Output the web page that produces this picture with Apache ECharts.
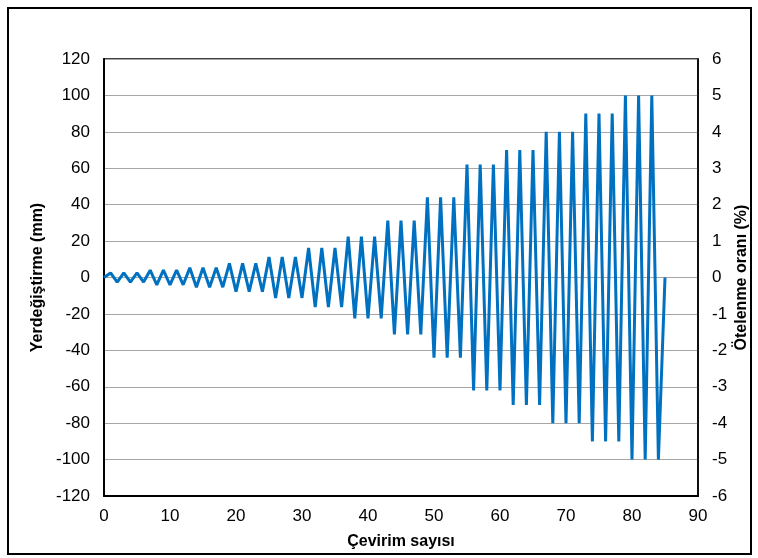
<!DOCTYPE html>
<html>
<head>
<meta charset="utf-8">
<script src="https://cdn.jsdelivr.net/npm/echarts@6/dist/echarts.min.js"></script>
<style>
  html, body { margin: 0; padding: 0; background: #fff; }
  #chart { width: 758px; height: 558px; }
</style>
</head>
<body>
<div id="chart"></div>
<script>
// displacement (mm) at each half-cycle step 0..85
var displacement = [
    0,
    2.5, -2.5, 2.5, -2.5, 2.5, -2.5,
    4, -4, 4, -4, 4, -4,
    5.3, -5.3, 5.3, -5.3, 5.3, -5.3,
    7.8, -7.8, 7.8, -7.8, 7.8, -7.8,
    11.2, -11.2, 11.2, -11.2, 11.2, -11.2,
    16.2, -16.2, 16.2, -16.2, 16.2, -16.2,
    22.5, -22.5, 22.5, -22.5, 22.5, -22.5,
    31.2, -31.2, 31.2, -31.2, 31.2, -31.2,
    44, -44, 44, -44, 44, -44,
    62, -62, 62, -62, 62, -62,
    70, -70, 70, -70, 70, -70,
    80, -80, 80, -80, 80, -80,
    90, -90, 90, -90, 90, -90,
    100, -100, 100, -100, 100, -100,
    0
];
var xTitle = 'Çevirim sayısı';
var yTitle = 'Yerdeğiştirme (mm)';
var y2Title = 'Ötelenme oranı (%)';

var seriesData = [];
for (var i = 0; i < displacement.length; i++) {
    seriesData.push([i, displacement[i]]);
}

var font = '"Liberation Sans", Arial, sans-serif';
var chart = echarts.init(document.getElementById('chart'));
var option = {
    animation: false,
    backgroundColor: '#fff',
    textStyle: { fontFamily: font },
    grid: {
        left: 104, right: 60, top: 59, bottom: 62,
        show: true,
        borderColor: '#000',
        borderWidth: 1.5,
        outerBoundsMode: 'none'
    },
    graphic: [{
        type: 'rect',
        shape: { x: 8, y: 8, width: 743, height: 546 },
        style: { fill: null, stroke: '#000', lineWidth: 2 },
        silent: true
    }],
    xAxis: {
        type: 'value',
        min: 0, max: 90, interval: 10,
        name: xTitle,
        nameLocation: 'middle',
        nameGap: 38,
        nameMoveOverlap: false,
        nameTextStyle: { fontSize: 16, fontWeight: 'bold', color: '#000', fontFamily: font },
        axisLine: { show: true, onZero: false, lineStyle: { color: '#000', width: 2 } },
        axisTick: { show: false },
        splitLine: { show: false },
        axisLabel: { fontSize: 17, color: '#000', margin: 12, fontFamily: font }
    },
    yAxis: [{
        type: 'value',
        min: -120, max: 120, interval: 20,
        name: yTitle,
        nameLocation: 'middle',
        nameRotate: 90,
        nameGap: 58,
        nameMoveOverlap: false,
        nameTextStyle: { fontSize: 16, fontWeight: 'bold', color: '#000', fontFamily: font },
        axisLine: { show: true, onZero: false, lineStyle: { color: '#000', width: 2 } },
        axisTick: { show: false },
        splitLine: { show: true, lineStyle: { color: '#a6a6a6', width: 1.2 } },
        axisLabel: { fontSize: 17, color: '#000', margin: 14, fontFamily: font }
    }, {
        type: 'value',
        position: 'right',
        min: -6, max: 6, interval: 1,
        name: y2Title,
        nameLocation: 'middle',
        nameRotate: 90,
        nameGap: 36,
        nameMoveOverlap: false,
        nameTextStyle: { fontSize: 16, fontWeight: 'bold', color: '#000', fontFamily: font },
        axisLine: { show: true, onZero: false, lineStyle: { color: '#000', width: 1.5 } },
        axisTick: { show: false },
        splitLine: { show: false },
        axisLabel: { fontSize: 17, color: '#000', margin: 14, fontFamily: font }
    }],
    series: [{
        type: 'line',
        data: seriesData,
        showSymbol: false,
        lineStyle: { color: '#0070C0', width: 3 },
        itemStyle: { color: '#0070C0' }
    }]
};
chart.setOption(option);
</script>
</body>
</html>
